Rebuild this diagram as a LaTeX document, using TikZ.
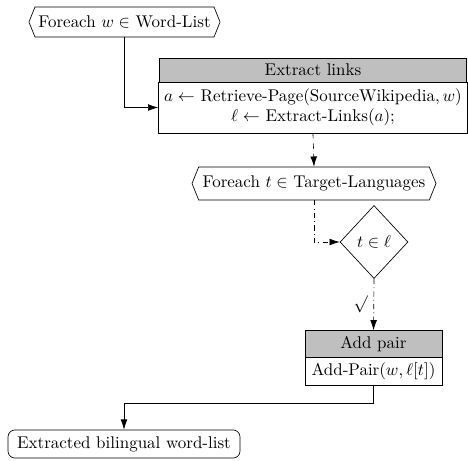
\documentclass[tikz,border=0pt]{standalone}
\usetikzlibrary{shapes.geometric,shapes.symbols,arrows.meta}
\begin{document}
\begin{tikzpicture}[x=0.589pt,y=-0.589pt,
        loopbox/.style={signal,signal to=west and east,signal pointer angle=136,draw,inner xsep=2pt,minimum height=17.7pt},
        head/.style={draw,fill=gray!50,minimum height=14.1pt},
        body/.style={draw,align=center},
        test/.style={diamond,draw,minimum width=40pt,minimum height=43pt,inner sep=0pt},
        final/.style={draw,rounded corners=4pt,minimum height=16.5pt},
        flow/.style={-{Latex[length=6pt,width=4pt]}}]
    \useasboundingbox (0,0) rectangle (468,460);

    \node[loopbox, minimum width=112.5pt] at (124.5,22) (foreachW) {Foreach $w \in$ Word-List};

    \node[head, minimum width=181pt] at (313,70) (extractHead) {Extract links};
    \node[body, minimum width=181pt, minimum height=30pt] at (313,107.5) (extractBody)
        {$a \leftarrow$ Retrieve-Page(SourceWikipedia$, w)$\\ $\ell \leftarrow$ Extract-Links$(a)$;};

    \node[loopbox, minimum width=143.7pt, minimum height=19.4pt] at (314,183.5) (foreachT) {Foreach $t \in$ Target-Languages};

    \node[test] at (374,242) (inL) {$t \in \ell$};

    \node[head, minimum width=80.7pt, minimum height=15.3pt] at (373.5,344) (addHead) {Add pair};
    \node[body, minimum width=80.7pt, minimum height=16.5pt] at (373.5,371) (addBody) {Add-Pair$(w, \ell[t])$};

    \node[final, minimum width=136.6pt] at (124,444) (result) {Extracted bilingual word-list};

    \draw[flow] (foreachW.south) |- (extractBody.west);
    \draw[flow, dashed] (extractBody.south) -- (foreachT.north);
    \draw[flow, dashdotted] (foreachT.south) |- (inL.west);
    \draw[flow, dashdotted] (inL.south) -- node[left, pos=0.5] {$\surd$} (addHead.north);
    \draw[flow] (addBody.south) -- ++(0,18) -| (result.north);
\end{tikzpicture}
\end{document}
